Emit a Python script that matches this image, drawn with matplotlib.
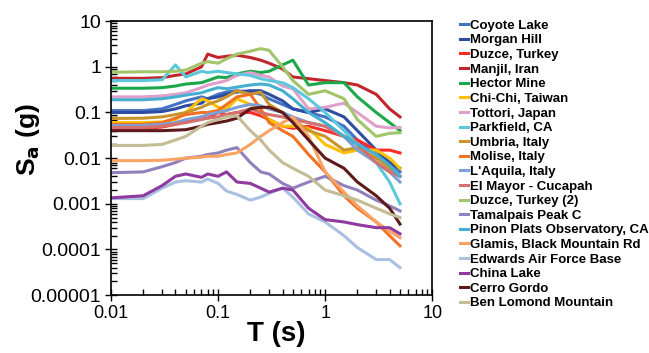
import matplotlib.pyplot as plt

plt.rcParams['font.family'] = ['Liberation Sans', 'DejaVu Sans']

# periods (s)
T = [0.01, 0.02, 0.03, 0.04, 0.05, 0.07, 0.08, 0.1, 0.12, 0.15, 0.2, 0.25,
     0.3, 0.4, 0.5, 0.7, 1.0, 1.5, 2.0, 3.0, 4.0, 5.0]

names = ['Coyote Lake', 'Morgan Hill', 'Duzce, Turkey', 'Manjil, Iran',
         'Hector Mine', 'Chi-Chi, Taiwan', 'Tottori, Japan', 'Parkfield, CA',
         'Umbria, Italy', 'Molise, Italy', "L'Aquila, Italy",
         'El Mayor - Cucapah', 'Duzce, Turkey (2)', 'Tamalpais Peak C',
         'Pinon Plats Observatory, CA', 'Glamis, Black Mountain Rd',
         'Edwards Air Force Base', 'China Lake', 'Cerro Gordo',
         'Ben Lomond Mountain']

colors = ['#4472C4', '#2F4DA0', '#FF2A2A', '#C0272D', '#1BA84A', '#FFC000',
          '#E09FCB', '#5BC8DC', '#C8952B', '#F07224', '#7E9ED6', '#D4716F',
          '#A2C46A', '#9080BE', '#45AFD0', '#F9A464', '#A9C0E2', '#8E3A9E',
          '#5E1A1A', '#C4BC94']

coyote = [0.11, 0.11, 0.12, 0.15, 0.18, 0.22, 0.2, 0.25, 0.28, 0.3, 0.28, 0.25,
          0.2, 0.15, 0.12, 0.1, 0.08, 0.05, 0.025, 0.012, 0.008, 0.005]
morgan = [0.1, 0.1, 0.105, 0.12, 0.14, 0.16, 0.2, 0.22, 0.25, 0.28, 0.3, 0.3,
          0.25, 0.18, 0.12, 0.1, 0.12, 0.08, 0.04, 0.015, 0.008, 0.006]
duzce = [0.045, 0.045, 0.048, 0.055, 0.065, 0.08, 0.075, 0.1, 0.09, 0.1, 0.1,
         0.085, 0.07, 0.05, 0.045, 0.05, 0.04, 0.03, 0.025, 0.015, 0.015, 0.013]
manjil = [0.56, 0.56, 0.58, 0.65, 0.7, 1.0, 1.9, 1.6, 1.7, 1.8, 1.6, 1.4,
          1.2, 0.9, 0.6, 0.55, 0.5, 0.45, 0.4, 0.25, 0.12, 0.08]
hector = [0.34, 0.34, 0.35, 0.38, 0.42, 0.45, 0.5, 0.6, 0.58, 0.7, 0.8, 0.75,
          0.8, 1.1, 1.4, 0.4, 0.45, 0.45, 0.22, 0.1, 0.06, 0.04]
chichi = [0.06, 0.06, 0.062, 0.07, 0.1, 0.2, 0.18, 0.13, 0.12, 0.2, 0.15, 0.1,
          0.07, 0.05, 0.05, 0.045, 0.02, 0.013, 0.015, 0.015, 0.01, 0.006]
tottori = [0.22, 0.22, 0.23, 0.25, 0.27, 0.35, 0.4, 0.45, 0.5, 0.65, 0.75, 0.65,
           0.6, 0.38, 0.33, 0.12, 0.13, 0.16, 0.1, 0.05, 0.046, 0.047]
parkfield = [0.5, 0.5, 0.52, 1.1, 0.6, 0.8, 0.75, 0.8, 0.75, 0.7, 0.65, 0.55,
             0.5, 0.45, 0.35, 0.2, 0.1, 0.04, 0.02, 0.008, 0.003, 0.001]
umbria = [0.074, 0.075, 0.08, 0.09, 0.1, 0.13, 0.15, 0.18, 0.22, 0.3, 0.25, 0.28,
          0.15, 0.1, 0.07, 0.04, 0.03, 0.015, 0.017, 0.01, 0.006, 0.004]
molise = [0.055, 0.055, 0.06, 0.075, 0.09, 0.1, 0.1, 0.11, 0.15, 0.22, 0.25, 0.12,
          0.06, 0.04, 0.03, 0.012, 0.005, 0.0015, 0.0008, 0.0004, 0.0002, 0.00012]
laquila = [0.052, 0.052, 0.055, 0.06, 0.07, 0.08, 0.09, 0.1, 0.11, 0.13, 0.15, 0.14,
           0.12, 0.1, 0.08, 0.06, 0.05, 0.03, 0.015, 0.008, 0.005, 0.003]
elmayor = [0.047, 0.047, 0.05, 0.055, 0.06, 0.07, 0.075, 0.08, 0.09, 0.1, 0.12, 0.1,
           0.09, 0.08, 0.07, 0.06, 0.05, 0.03, 0.02, 0.008, 0.005, 0.004]
duzce2 = [0.76, 0.78, 0.78, 0.8, 0.85, 1.2, 1.3, 1.2, 1.5, 1.9, 2.2, 2.5,
          2.3, 1.0, 0.5, 0.25, 0.3, 0.2, 0.07, 0.03, 0.035, 0.036]
tamalpais = [0.0048, 0.005, 0.0065, 0.008, 0.01, 0.011, 0.012, 0.013, 0.015, 0.017,
             0.008, 0.005, 0.0045, 0.0028, 0.0022, 0.003, 0.004, 0.0025, 0.002,
             0.0012, 0.0009, 0.0007]
pinon = [0.19, 0.19, 0.2, 0.22, 0.24, 0.27, 0.3, 0.35, 0.33, 0.36, 0.4, 0.42,
         0.4, 0.3, 0.2, 0.1, 0.06, 0.03, 0.02, 0.012, 0.007, 0.004]
glamis = [0.0088, 0.0088, 0.009, 0.0095, 0.01, 0.0105, 0.011, 0.011, 0.012, 0.013,
          0.02, 0.03, 0.04, 0.06, 0.08, 0.03, 0.005, 0.0018, 0.0009, 0.0004,
          0.00025, 0.00018]
edwards = [0.0013, 0.0013, 0.0022, 0.003, 0.0032, 0.003, 0.0035, 0.0028, 0.0019,
           0.0016, 0.0012, 0.0014, 0.0017, 0.0022, 0.0014, 0.0006, 0.0004, 0.0002,
           0.00011, 0.00006, 0.00006, 0.00004]
chinalake = [0.00135, 0.0015, 0.0025, 0.004, 0.0045, 0.0038, 0.0045, 0.004, 0.005,
             0.003, 0.0028, 0.0022, 0.0018, 0.0022, 0.002, 0.0008, 0.00045, 0.0004,
             0.00035, 0.0003, 0.0003, 0.00022]
cerro = [0.04, 0.04, 0.04, 0.041, 0.042, 0.05, 0.055, 0.06, 0.065, 0.075, 0.12, 0.13,
         0.13, 0.1, 0.06, 0.025, 0.01, 0.006, 0.003, 0.0015, 0.0008, 0.00036]
benlomond = [0.019, 0.019, 0.02, 0.025, 0.03, 0.05, 0.06, 0.07, 0.08, 0.085, 0.04,
             0.025, 0.015, 0.008, 0.006, 0.004, 0.002, 0.0015, 0.0012, 0.0008,
             0.0006, 0.0005]

series = [coyote, morgan, duzce, manjil, hector, chichi, tottori, parkfield,
          umbria, molise, laquila, elmayor, duzce2, tamalpais, pinon, glamis,
          edwards, chinalake, cerro, benlomond]

fig = plt.figure(figsize=(6.49, 3.53), dpi=100)
ax = fig.add_axes([0.171, 0.164, 0.495, 0.776])

for vals, name, c in zip(series, names, colors):
    ax.plot(T, vals, color=c, lw=2.2, label=name)

ax.set_xscale('log')
ax.set_yscale('log')
ax.set_xlim(0.01, 10)
ax.set_ylim(1e-5, 10)
ax.set_xticks([0.01, 0.1, 1, 10])
ax.set_xticklabels(['0.01', '0.1', '1', '10'])
ax.set_yticks([1e-5, 1e-4, 1e-3, 1e-2, 0.1, 1, 10])
ax.set_yticklabels(['0.00001', '0.0001', '0.001', '0.01', '0.1', '1', '10'])
ax.tick_params(which='major', direction='inout', length=8, width=1,
               top=False, right=False, pad=3)
ax.tick_params(axis='x', which='major', labelsize=13)
ax.tick_params(axis='y', which='major', labelsize=14)
ax.tick_params(which='minor', direction='in', length=4, width=1,
               top=False, right=False)
for s in ax.spines.values():
    s.set_linewidth(1.2)

ax.set_xlabel('T (s)', fontsize=20, fontweight='bold')
ax.set_ylabel('S$_\\mathbf{a}$ (g)', fontsize=19, fontweight='bold')
ax.xaxis.set_label_coords(0.514, -0.095)
ax.yaxis.set_label_coords(-0.215, 0.566)

ax.legend(loc='upper left', bbox_to_anchor=(1.071, 1.025), frameon=False,
          prop={'size': 9.5, 'weight': 'bold'}, handlelength=0.6,
          handletextpad=0.15, labelspacing=0.18, borderaxespad=0)

fig.savefig('out.png', dpi=100)
